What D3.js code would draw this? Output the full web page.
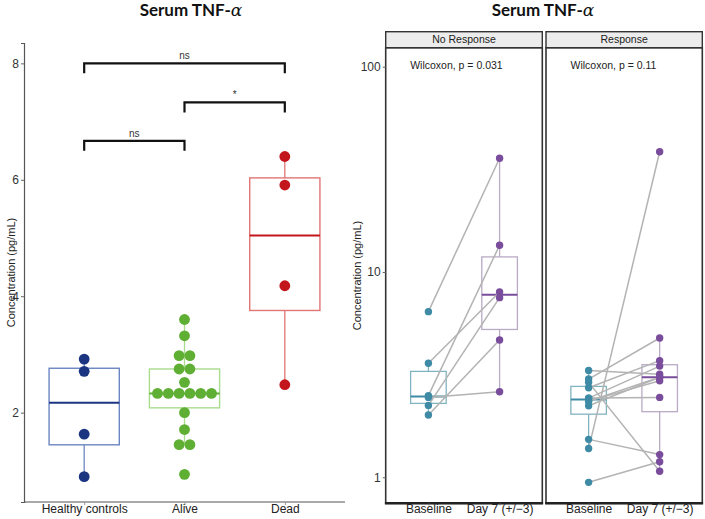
<!DOCTYPE html>
<html>
<head>
<meta charset="utf-8">
<script src="https://cdn.jsdelivr.net/npm/d3@7"></script>
<style>
  html, body { margin: 0; padding: 0; background: #fff; }
  svg { display: block; }
  text { font-family: "Liberation Sans", Arial, sans-serif; }
</style>
</head>
<body>
<svg id="chart" width="705" height="519"></svg>
<script>
// ---------------- data ----------------
const leftCategories = ["Healthy controls", "Alive", "Dead"];
const healthyValues = [0.90, 1.63, 2.71, 2.92];
const aliveValues = [0.94, 1.45, 1.45, 1.71, 2.00, 2.33, 2.33, 2.33, 2.33, 2.33, 2.33, 2.52, 2.75, 2.75, 2.98, 2.98, 3.32, 3.60];
const deadValues = [2.48, 4.18, 5.91, 6.40];
const leftTicks = [2, 4, 6, 8];
const comparisonFrom = ["Healthy controls", "Alive", "Healthy controls"];
const comparisonTo = ["Dead", "Dead", "Alive"];
const comparisonY = [8.0, 7.33, 6.67];
const comparisonLabel = ["ns", "*", "ns"];

const panels = ["No Response", "Response"];
const timepoints = ["Baseline", "Day 7 (+/\u22123)"];
const noRespBaseline = [6.41, 3.59, 2.50, 2.45, 2.24, 2.01];
const noRespDay7 = [35.8, 7.99, 13.5, 2.61, 7.50, 4.66];
const respBaseline = [1.38, 0.945, 1.53, 2.90, 3.31, 3.01, 2.73, 2.43, 2.43, 2.35, 2.35, 2.23];
const respDay7 = [38.5, 1.19, 1.29, 1.07, 3.18, 4.77, 3.70, 3.48, 2.45, 3.07, 2.95, 3.07];
const wilcoxonLabels = ["Wilcoxon, p = 0.031", "Wilcoxon, p = 0.11"];
const rightTicks = [1, 10, 100];

// ---------------- helpers ----------------
const FONT = "'Liberation Sans', Arial, sans-serif";
const svg = d3.select("#chart");

function boxStats(vals, tf, inv) {
  const t = vals.map(tf).sort(d3.ascending);
  const q1 = d3.quantile(t, 0.25), med = d3.quantile(t, 0.5), q3 = d3.quantile(t, 0.75);
  const iqr = q3 - q1;
  const lo = d3.min(t.filter(v => v >= q1 - 1.5 * iqr));
  const hi = d3.max(t.filter(v => v <= q3 + 1.5 * iqr));
  return { q1: inv(q1), med: inv(med), q3: inv(q3), lo: inv(lo), hi: inv(hi) };
}

function drawBox(g, s, cx, w, y, boxColor, medColor, whiskColor, boxW, medW) {
  g.append("line").attr("x1", cx).attr("x2", cx).attr("y1", y(s.q3)).attr("y2", y(s.hi))
    .attr("stroke", whiskColor).attr("stroke-width", 1.3);
  g.append("line").attr("x1", cx).attr("x2", cx).attr("y1", y(s.q1)).attr("y2", y(s.lo))
    .attr("stroke", whiskColor).attr("stroke-width", 1.3);
  g.append("rect").attr("x", cx - w / 2).attr("y", y(s.q3)).attr("width", w)
    .attr("height", y(s.q1) - y(s.q3)).attr("fill", "none")
    .attr("stroke", boxColor).attr("stroke-width", boxW);
  g.append("line").attr("x1", cx - w / 2).attr("x2", cx + w / 2)
    .attr("y1", y(s.med)).attr("y2", y(s.med))
    .attr("stroke", medColor).attr("stroke-width", medW);
}

// ---------------- title ----------------
function title(cx) {
  const t = svg.append("text").attr("x", cx).attr("y", 15.5).attr("text-anchor", "middle")
    .style("font-family", "Lato, 'Open Sans', sans-serif").style("font-weight", "bold")
    .style("font-size", "17px").attr("fill", "#111");
  t.append("tspan").text("Serum TNF-");
  t.append("tspan").text("\u03B1").style("font-family", "'DejaVu Serif', serif")
    .style("font-style", "italic").style("font-weight", "normal").style("font-size", "17px");
}
title(191);
title(543);

// ---------------- left chart ----------------
const L = { left: 24, right: 345, top: 43, bottom: 502 };
const xL = d3.scalePoint().domain(leftCategories).range([L.left, L.right]).padding(0.6);
const yL = d3.scaleLinear().domain([0.465, 8.35]).range([L.bottom, L.top]);
const gL = svg.append("g");

// axes
const yAxisL = d3.axisLeft(yL).tickValues(leftTicks).tickSize(3).tickPadding(2);
gL.append("g").attr("transform", `translate(${L.left},0)`).call(yAxisL)
  .call(g => { g.select(".domain").attr("stroke", "#555").attr("stroke-width", 1.2);
               g.selectAll(".tick line").attr("stroke", "#666");
               g.selectAll(".tick text").attr("fill", "#333").style("font-size", "12px")
                 .style("font-family", FONT); });
const xAxisL = d3.axisBottom(xL).tickSize(3).tickPadding(0);
gL.append("g").attr("transform", `translate(0,${L.bottom})`).call(xAxisL)
  .call(g => { g.select(".domain").attr("stroke", "#555").attr("stroke-width", 1.2)
                 .attr("d", `M${L.left},0H${L.right}`);
               g.selectAll(".tick line").attr("stroke", "#999");
               g.selectAll(".tick text").attr("y", 2.5).attr("fill", "#222").style("font-size", "12px")
                 .style("font-family", FONT); });

gL.append("text").attr("transform", `translate(11,${(L.top + L.bottom) / 2}) rotate(-90)`)
  .attr("text-anchor", "middle").attr("dy", "0.35em").style("font-size", "11px")
  .style("font-family", FONT).attr("fill", "#222").text("Concentration (pg/mL)");

const leftGroups = [
  { cat: "Healthy controls", vals: healthyValues, dot: "#1c3580", box: "#6b86c2", med: "#1c3580", whisk: "#6b86c2" },
  { cat: "Alive", vals: aliveValues, dot: "#5eaf33", box: "#a9dc8d", med: "#5eaf33", whisk: "#a9dc8d" },
  { cat: "Dead", vals: deadValues, dot: "#c3161c", box: "#e27575", med: "#c3161c", whisk: "#e27575" }
];
const bwL = xL.step() * 0.7;
const dotR = 5.4;
leftGroups.forEach(gr => {
  const s = boxStats(gr.vals, v => v, v => v);
  const cx = xL(gr.cat);
  drawBox(gL, s, cx, bwL, yL, gr.box, gr.med, gr.whisk, 1.4, 2);
  // dotplot stacking (centered)
  const counts = d3.rollups(gr.vals, v => v.length, v => v);
  counts.forEach(([val, n]) => {
    for (let i = 0; i < n; i++) {
      gL.append("circle").attr("cx", cx + (i - (n - 1) / 2) * dotR * 2)
        .attr("cy", yL(val)).attr("r", dotR).attr("fill", gr.dot);
    }
  });
});

// comparison brackets
const tipLen = 10;
comparisonFrom.forEach((f, i) => {
  const x1 = xL(f), x2 = xL(comparisonTo[i]), yy = yL(comparisonY[i]);
  gL.append("path").attr("d", `M${x1},${yy + tipLen}V${yy}H${x2}V${yy + tipLen}`)
    .attr("fill", "none").attr("stroke", "#111").attr("stroke-width", 2.2);
  gL.append("text").attr("x", (x1 + x2) / 2).attr("y", yy - 4).attr("text-anchor", "middle")
    .style("font-size", "10px").style("font-family", FONT).attr("fill", "#333").text(comparisonLabel[i]);
});

// ---------------- right chart (faceted) ----------------
const R = { top: 47.7, bottom: 503.3, stripTop: 31.7 };
const panelX = [[385.7, 542.3], [546, 702.3]];
const yR = d3.scaleLog().domain([0.747, 123.7]).range([R.bottom, R.top]);
const gR = svg.append("g");
const panelData = [[noRespBaseline, noRespDay7], [respBaseline, respDay7]];
const timeColors = [
  { dot: "#3f8ba6", box: "#82b3c0", med: "#3f8ba6" },
  { dot: "#7a4c9c", box: "#b9aac6", med: "#7a4c9c" }
];

panels.forEach((p, pi) => {
  const [x0, x1] = panelX[pi];
  const x = d3.scalePoint().domain(timepoints).range([x0, x1]).padding(0.6);
  const g = gR.append("g");
  const [base, day7] = panelData[pi];

  // boxes
  [base, day7].forEach((vals, ti) => {
    const s = boxStats(vals, Math.log10, v => Math.pow(10, v));
    drawBox(g, s, x(timepoints[ti]), x.step() * 0.5, yR,
      timeColors[ti].box, timeColors[ti].med, timeColors[ti].box, 1.3, 2);
  });
  // paired lines
  base.forEach((b, i) => {
    g.append("line").attr("x1", x(timepoints[0])).attr("y1", yR(b))
      .attr("x2", x(timepoints[1])).attr("y2", yR(day7[i]))
      .attr("stroke", "#b3b3b3").attr("stroke-width", 1.5);
  });
  // points
  [base, day7].forEach((vals, ti) => {
    vals.forEach(v => {
      g.append("circle").attr("cx", x(timepoints[ti])).attr("cy", yR(v))
        .attr("r", 3.7).attr("fill", timeColors[ti].dot);
    });
  });

  // panel border
  g.append("rect").attr("x", x0).attr("y", R.top).attr("width", x1 - x0)
    .attr("height", R.bottom - R.top).attr("fill", "none")
    .attr("stroke", "#333").attr("stroke-width", 1.6);
  g.append("line").attr("x1", x0 - 0.8).attr("x2", x1 + 0.8).attr("y1", R.bottom).attr("y2", R.bottom)
    .attr("stroke", "#222").attr("stroke-width", 2.4);
  // strip
  g.append("rect").attr("x", x0).attr("y", R.stripTop).attr("width", x1 - x0)
    .attr("height", R.top - R.stripTop).attr("fill", "#ececec")
    .attr("stroke", "#333").attr("stroke-width", 1.4);
  g.append("text").attr("x", (x0 + x1) / 2).attr("y", (R.stripTop + R.top) / 2)
    .attr("dy", "0.35em").attr("text-anchor", "middle").style("font-size", "10.5px")
    .style("font-family", FONT).attr("fill", "#222").text(p);
  // wilcoxon label
  g.append("text").attr("x", x0 + 24.5).attr("y", 65).attr("dy", "0.35em")
    .style("font-size", "10.5px").style("font-family", FONT).attr("fill", "#222").text(wilcoxonLabels[pi]);
  // x axis labels
  const xa = d3.axisBottom(x).tickSize(2).tickPadding(0);
  g.append("g").attr("transform", `translate(0,${R.bottom})`).call(xa)
    .call(gg => { gg.select(".domain").remove();
                  gg.selectAll(".tick line").attr("stroke", "#666");
                  gg.selectAll(".tick text").attr("y", 1.5).attr("fill", "#222").style("font-size", "12px")
                    .style("font-family", FONT); });
});

// right y axis
const yAxisR = d3.axisLeft(yR).tickValues(rightTicks).tickFormat(d3.format("d")).tickSize(3).tickPadding(2);
gR.append("g").attr("transform", `translate(${panelX[0][0]},0)`).call(yAxisR)
  .call(g => { g.select(".domain").remove();
               g.selectAll(".tick line").attr("stroke", "#666");
               g.selectAll(".tick text").attr("fill", "#333").style("font-size", "12px")
                 .style("font-family", FONT); });
gR.append("text").attr("transform", `translate(357,${(R.top + R.bottom) / 2}) rotate(-90)`)
  .attr("text-anchor", "middle").attr("dy", "0.35em").style("font-size", "11px")
  .style("font-family", FONT).attr("fill", "#222").text("Concentration (pg/mL)");
</script>
</body>
</html>
